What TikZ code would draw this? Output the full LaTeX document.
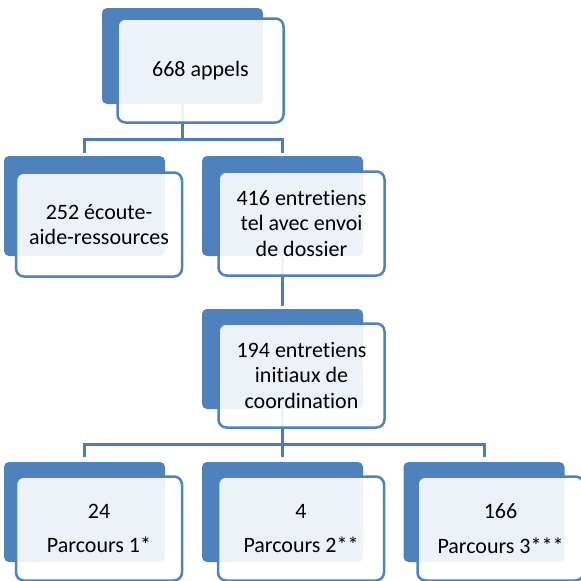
\documentclass[tikz,border=0pt]{standalone}
\usepackage{fontspec}
\setmainfont[Ligatures=NoCommon]{Carlito}
\usepackage{xcolor}
\usepackage{tikz}

\definecolor{boxblue}{HTML}{4F81BD}
\definecolor{linkblue}{HTML}{4A7DB9}

\tikzset{
    backbox/.style={fill=boxblue, draw=none, rounded corners=5pt, inner sep=0pt,
        minimum width=161pt, minimum height=100pt},
    frontbox/.style={draw=boxblue, line width=2.5pt, fill=white, fill opacity=0.9,
        text opacity=1, rounded corners=8pt, inner sep=0pt, align=center,
        minimum width=166pt, minimum height=104pt,
        font=\fontsize{22pt}{25.5pt}\selectfont},
    link/.style={draw=linkblue, line width=3pt}
}

\begin{document}
\begin{tikzpicture}[x=1pt, y=-1pt]
        \useasboundingbox (0,0) rectangle (581,581);

        % back boxes
        \node[backbox, minimum height=96pt] (appelsback) at (182.5, 56) {};
        \node[backbox] (ecouteback) at (84.5, 206) {};
        \node[backbox] (telback) at (282.5, 206) {};
        \node[backbox] (coordback) at (282.5, 359) {};
        \node[backbox] (pun) at (84.5, 512) {};
        \node[backbox] (pdeux) at (282.5, 512) {};
        \node[backbox] (ptrois) at (484, 512) {};

        % connectors
        \coordinate (jun) at (182.5, 139);
        \coordinate (jdeux) at (282.5, 444);
        \draw[link] (appelsback.south) -- (jun);
        \draw[link, shorten >=3pt] (jun) -| (ecouteback.north);
        \draw[link, shorten >=3pt] (jun) -| (telback.north);
        \draw[link, shorten >=3pt] (telback.south) -- (coordback.north);
        \draw[link] (coordback.south) -- (jdeux);
        \draw[link, shorten >=5pt] (jdeux) -| (pun.north);
        \draw[link, shorten >=5pt] (jdeux) -| (pdeux.north);
        \draw[link, shorten >=5pt] (jdeux) -| (ptrois.north);

        % front boxes
        \node[frontbox] (appels) at (200.5, 70.5) {668 appels};
        \node[frontbox] (ecoute) at (99, 224.5) {252 écoute-\\aide-ressources};
        \node[frontbox] (tel) at (301.5, 223.5) {416 entretiens\\tel avec envoi\\de dossier};
        \node[frontbox] (coord) at (301.5, 375.5) {194 entretiens\\initiaux de\\coordination};
        \node[frontbox] (parcoursun) at (99, 528.5) {24\\[9pt]Parcours 1*};
        \node[frontbox] (parcoursdeux) at (301, 528.5) {4\\[9pt]Parcours 2**};
        \node[frontbox] (parcourstrois) at (500.5, 528.5) {166\\[9pt]Parcours 3***};
    \end{tikzpicture}
\end{document}
